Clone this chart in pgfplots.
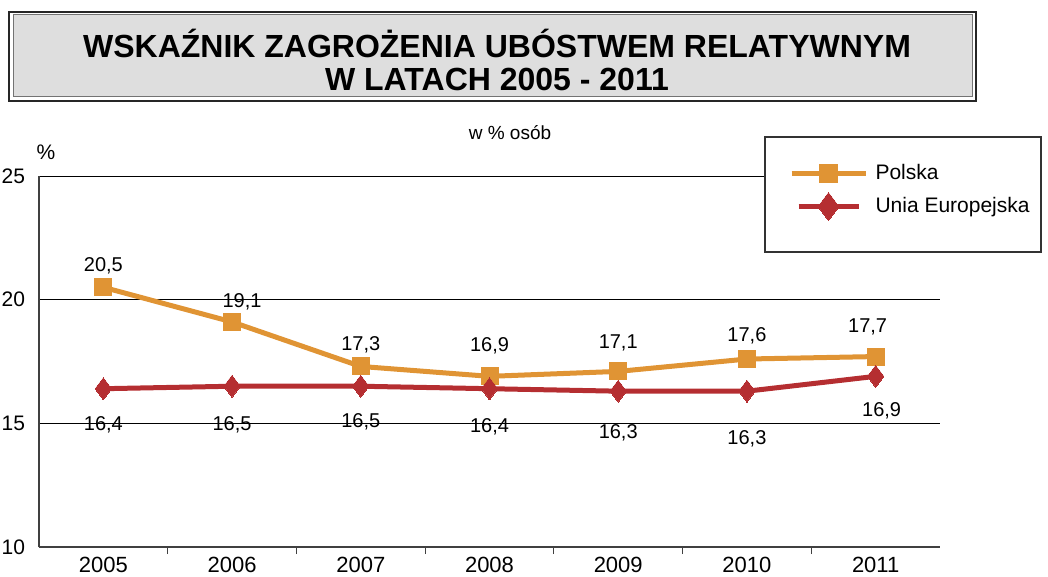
\documentclass[border=0pt]{standalone}
\usepackage{pgfplots}
\pgfplotsset{compat=1.18}
\usepackage{fontspec}
\setmainfont{Liberation Sans}
\definecolor{pl}{HTML}{E09434}
\definecolor{eu}{HTML}{B52E31}
\definecolor{titlebg}{HTML}{DEDEDE}

\pgfplotstableread{
x y lab dx dy
0 20.5 20,5 0 11
1 19.1 19,1 5 10
2 17.3 17,3 0 10.75
3 16.9 16,9 0 15.5
4 17.1 17,1 0 14
5 17.6 17,6 0 11.5
6 17.7 17,7 -4 15
}\polska

\pgfplotstableread{
x y lab dx dy
0 16.4 16,4 0 -18
1 16.5 16,5 0 -19.5
2 16.5 16,5 0 -18
3 16.4 16,4 0 -19
4 16.3 16,3 0 -21
5 16.3 16,3 0 -24
6 16.9 16,9 3 -17
}\ue

\begin{document}
\begin{tikzpicture}
\useasboundingbox (0,0) rectangle (524pt,-288.5pt);
% title box
\draw[draw=black!85, line width=0.7pt] (4.5pt,-6pt) rectangle (488pt,-50.5pt);
\draw[draw=black!55, fill=titlebg, line width=0.5pt] (6.5pt,-7.5pt) rectangle (486pt,-48.5pt);
\node[font=\bfseries\fontsize{16}{16}\selectfont, align=center, inner sep=0pt] at (248.5pt,-30pt)
  {WSKAŹNIK ZAGROŻENIA UBÓSTWEM RELATYWNYM\\[0.2pt] W LATACH 2005 - 2011};
\node[font=\fontsize{10.5}{12}\selectfont] at (23pt,-76pt) {\%};
\node[font=\fontsize{9.5}{11}\selectfont] at (255pt,-66.5pt) {w \% osób};

\begin{axis}[
  at={(19.5pt,-273.5pt)}, anchor=south west,
  scale only axis, width=450.5pt, height=185.5pt,
  xmin=-0.5, xmax=6.5, ymin=10, ymax=25,
  axis x line*=bottom, axis y line*=left,
  axis line style={-, black!75, line width=0.6pt},
  ytick={10,15,20,25},
  ymajorgrids, grid style={black, line width=0.5pt},
  xtick={0,1,2,3,4,5,6},
  xticklabels={2005,2006,2007,2008,2009,2010,2011},
  major tick length=0pt,
  extra x ticks={0.5,1.5,2.5,3.5,4.5,5.5},
  extra x tick labels={},
  extra x tick style={major tick length=3.5pt, tick align=outside,
     tick style={black!75, line width=0.5pt}, grid=none},
  tick label style={font=\fontsize{10.5}{12}\selectfont},
  xticklabel style={font=\fontsize{11}{12}\selectfont, yshift=-3pt, inner ysep=2pt},
  /pgf/number format/assume math mode=true,
  yticklabel style={xshift=-3.5pt},
  clip=false,
  legend style={at={(0.832,0.961)}, anchor=west, draw=none, fill=none,
     inner sep=0pt, row sep=3pt, font=\fontsize{10.5}{12}\selectfont,
     /tikz/every even column/.append style={column sep=0pt}},
  legend cell align=left,
]
\draw[black!80, fill=white, line width=0.6pt]
  (rel axis cs:0.8058,1.1051) rectangle (rel axis cs:1.1121,0.7951);

\addplot[pl, line width=2.5pt, mark=square*, mark size=4.25pt,
  mark options={solid, fill=pl, line width=0pt},
  nodes near coords, point meta=explicit symbolic,
  visualization depends on={\thisrow{dx}\as\dx},
  visualization depends on={\thisrow{dy}\as\dy},
  every node near coord/.append style={font=\fontsize{10}{11}\selectfont, text=black,
     anchor=center, xshift=\dx*1pt, yshift=\dy*1pt},
  legend image code/.code={\draw[mark repeat=2,mark phase=2, mark size=4.5pt]
     plot coordinates {(0pt,0pt) (18.5pt,0pt) (37pt,0pt)};}
] table[x=x, y=y, meta=lab] {\polska};
\addlegendentry{\,Polska}

\addplot[eu, line width=2.5pt, mark=diamond*, mark size=5.5pt,
  mark options={solid, fill=eu, line width=0pt},
  nodes near coords, point meta=explicit symbolic,
  visualization depends on={\thisrow{dx}\as\dx},
  visualization depends on={\thisrow{dy}\as\dy},
  every node near coord/.append style={font=\fontsize{10}{11}\selectfont, text=black,
     anchor=center, xshift=\dx*1pt, yshift=\dy*1pt},
  legend image code/.code={\draw[mark repeat=2,mark phase=2, mark size=7pt]
     plot coordinates {(3.5pt,0pt) (18.5pt,0pt) (33.5pt,0pt)};}
] table[x=x, y=y, meta=lab] {\ue};
\addlegendentry{\,Unia Europejska}
\end{axis}
\end{tikzpicture}
\end{document}
